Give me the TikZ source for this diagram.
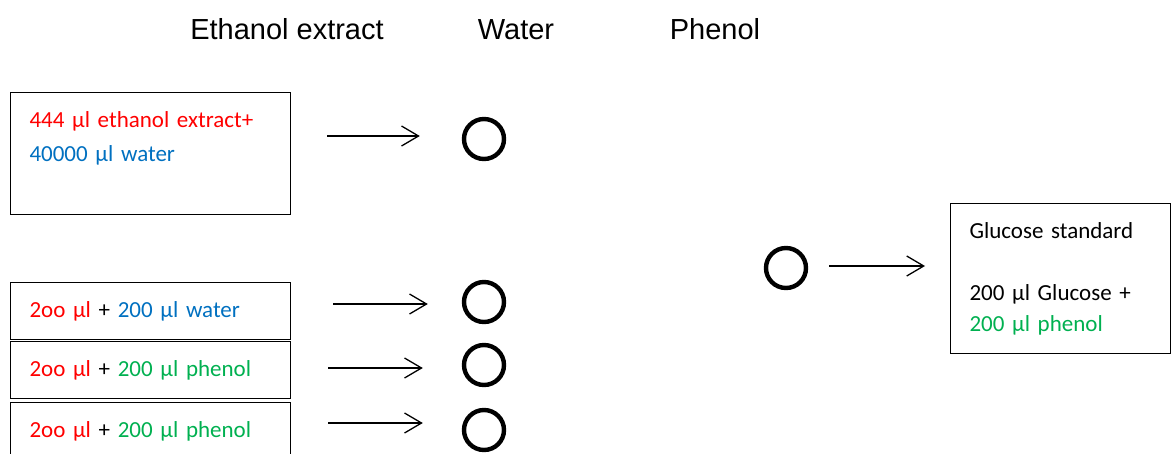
\documentclass[tikz,border=0pt]{standalone}
\usepackage{fontspec}
\setmainfont{Carlito}
\newfontfamily\headfont{Liberation Sans}
\usetikzlibrary{arrows.meta}
\definecolor{exred}{RGB}{255,0,0}
\definecolor{exblue}{RGB}{0,112,192}
\definecolor{exgreen}{RGB}{0,176,80}
\begin{document}
\begin{tikzpicture}[x=1pt,y=-1pt,
  box/.style={draw, line width=1pt, anchor=north west, inner xsep=19pt, inner ysep=0pt, align=left},
  tube/.style={circle, draw, line width=4.4pt, minimum size=40pt, inner sep=0pt},
  arr/.style={-{Straight Barb[length=17pt,width=20pt]}, line width=1.3pt},
  head/.style={font=\headfont\fontsize{29}{29}\selectfont, anchor=base}]
\clip (0,0) rectangle (1171,453);
\node[head] (eth) at (287,39) {Ethanol extract};
\node[head] (wat) at (516,39) {Water};
\node[head] (phe) at (715,39) {Phenol};
\fontsize{23}{34}\selectfont
% stock dilution
\node[box, minimum height=122pt, text width=242pt] (b1) at (10,92)
  {\color{exred}444 µl ethanol extract+\\\color{exblue}40000 µl water\\\mbox{}};
\node[tube] (c1) at (484,139) {};
\draw[arr, shorten <=36pt, shorten >=42pt] ([yshift=3pt]c1.west -| b1.east) -- ([yshift=3pt]c1.west);
% samples
\foreach \n/\y/\cy/\dy/\s/\e/\txt in {
    2/282/302/-2/42/34/{\color{exblue}200 µl water},
    3/341/365/-3/37/39/{\color{exgreen}200 µl phenol},
    4/402/430/7/37/39/{\color{exgreen}200 µl phenol}}{
  \node[box, minimum height=57pt, text width=242pt] (b\n) at (10,\y)
    {\color{exred}2oo µl \color{black}+ \txt};
  \node[tube] (c\n) at (484,\cy) {};
  \draw[arr, shorten <=\s pt, shorten >=\e pt] ([yshift=\dy pt]c\n.west -| b\n.east) -- ([yshift=\dy pt]c\n.west);
}
% standard
\fontsize{23}{31}\selectfont
\node[tube] (c5) at (786,268) {};
\node[box, minimum height=150pt, text width=182pt] (g) at (950,203)
  {Glucose standard\\\mbox{}\\200 µl Glucose +\\\color{exgreen}200 µl phenol};
\draw[arr, shorten <=21pt, shorten >=25pt] ([yshift=2pt]c5.east) -- ([yshift=2pt]c5.east -| g.west);
\end{tikzpicture}
\end{document}
